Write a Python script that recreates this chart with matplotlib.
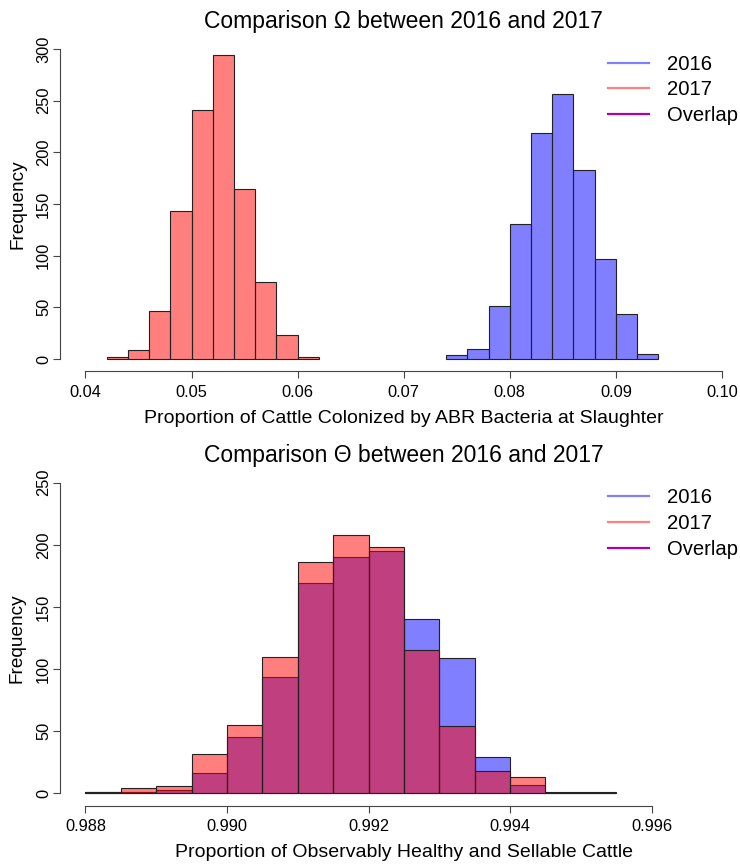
import numpy as np
import matplotlib
matplotlib.use('Agg')
import matplotlib.pyplot as plt
from matplotlib.lines import Line2D

plt.rcParams['font.family'] = ['Liberation Sans', 'DejaVu Sans']

# Omega: proportion colonized by ABR bacteria at slaughter
omega_edges_2016 = [0.074, 0.076, 0.078, 0.080, 0.082, 0.084, 0.086, 0.088, 0.090, 0.092, 0.094]
omega_counts_2016 = [4, 10, 51, 131, 219, 256, 183, 97, 44, 5]
omega_edges_2017 = [0.042, 0.044, 0.046, 0.048, 0.050, 0.052, 0.054, 0.056, 0.058, 0.060, 0.062]
omega_counts_2017 = [2, 9, 46, 143, 241, 294, 165, 75, 23, 2]

# Theta: proportion observably healthy and sellable
theta_edges = [0.9880, 0.9885, 0.9890, 0.9895, 0.9900, 0.9905, 0.9910, 0.9915,
               0.9920, 0.9925, 0.9930, 0.9935, 0.9940, 0.9945, 0.9950, 0.9955]
theta_counts_2016 = [1, 1, 3, 16, 45, 94, 169, 190, 195, 140, 109, 29, 7, 1, 1]
theta_counts_2017 = [1, 4, 6, 32, 55, 110, 186, 208, 198, 115, 54, 18, 13, 0, 0]

col16 = (0, 0, 1, 0.5)
col17 = (1, 0, 0, 0.5)
leg_labels = ['2016', '2017', 'Overlap']
leg_colors = ['#8080FF', '#FF8080', '#B000B0']

W, H = 740, 867
fig = plt.figure(figsize=(W / 100, H / 100), dpi=100)


def px_axes(left, right, top, bottom):
    return fig.add_axes([left / W, 1 - bottom / H, (right - left) / W, (bottom - top) / H])


def hist_bars(ax, edges, counts, color):
    edges = np.asarray(edges)
    ax.bar(edges[:-1], counts, width=np.diff(edges), align='edge',
           color=color, edgecolor='#222222', linewidth=0.8)


def style(ax, xlim, ylim, xticks, yticks, xfmt, title, xlabel, top, bottom):
    xr = xlim[1] - xlim[0]
    yr = ylim[1] - ylim[0]
    ax.set_xlim(xlim[0] - 0.04 * xr, xlim[1] + 0.04 * xr)
    ax.set_ylim(ylim[0] - 0.04 * yr, ylim[1] + 0.04 * yr)
    for s in ['top', 'right']:
        ax.spines[s].set_visible(False)
    ax.spines['left'].set_bounds(yticks[0], yticks[-1])
    ax.spines['bottom'].set_bounds(xticks[0], xticks[-1])
    for s in ['left', 'bottom']:
        ax.spines[s].set_color('#444444')
        ax.spines[s].set_linewidth(0.8)
    ax.set_xticks(xticks)
    ax.set_xticklabels([xfmt % t for t in xticks])
    ax.set_yticks(yticks)
    ax.set_yticklabels([str(t) for t in yticks], rotation=90, va='center')
    ax.tick_params(direction='out', length=5, width=0.8, color='#444444',
                   labelsize=11.8)
    ax.tick_params(axis='x', pad=4.5)
    ax.tick_params(axis='y', pad=1.5)
    h = bottom - top
    ax.set_title(title, fontsize=16.5, y=1 + 8.5 / h, pad=0)
    ax.set_xlabel(xlabel, fontsize=14)
    ax.xaxis.set_label_coords(0.5, -38.5 / h)
    ax.set_ylabel('Frequency', fontsize=13.7)
    ax.yaxis.set_label_coords(-34 / 687.5, 0.5)
    handles = [Line2D([0], [0], color=c, lw=1.6) for c in leg_colors]
    ax.legend(handles, leg_labels, loc='upper right', frameon=False, fontsize=14.6,
              handlelength=2.0, handletextpad=0.9, labelspacing=0.34,
              borderpad=0, borderaxespad=0,
              bbox_to_anchor=(738 / W, 1 - (top + 18) / H),
              bbox_transform=fig.transFigure)


# top panel
top, bottom = 36.6, 371.4
ax1 = px_axes(60, 747.4, top, bottom)
hist_bars(ax1, omega_edges_2016, omega_counts_2016, col16)
hist_bars(ax1, omega_edges_2017, omega_counts_2017, col17)
style(ax1, (0.04, 0.10), (0, 300), [0.04, 0.05, 0.06, 0.07, 0.08, 0.09, 0.10],
      [0, 50, 100, 150, 200, 250, 300], '%.2f',
      'Comparison \u03a9 between 2016 and 2017',
      'Proportion of Cattle Colonized by ABR Bacteria at Slaughter', top, bottom)

# bottom panel
top, bottom = 470.3, 805.7
ax2 = px_axes(60, 747.9, top, bottom)
hist_bars(ax2, theta_edges, theta_counts_2016, col16)
hist_bars(ax2, theta_edges, theta_counts_2017, col17)
style(ax2, (0.988, 0.997), (0, 250), [0.988, 0.990, 0.992, 0.994, 0.996],
      [0, 50, 100, 150, 200, 250], '%.3f',
      'Comparison \u0398 between 2016 and 2017',
      'Proportion of Observably Healthy and Sellable Cattle', top, bottom)

fig.savefig('out.png', dpi=100)
